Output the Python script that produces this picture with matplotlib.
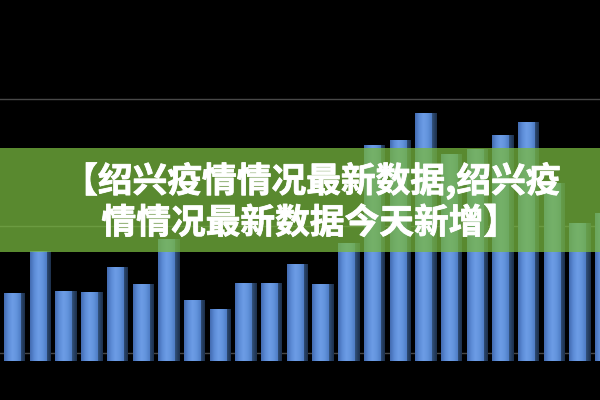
import numpy as np
import matplotlib
matplotlib.use("Agg")
import matplotlib.pyplot as plt
import matplotlib.patheffects as pe
from matplotlib.colors import LinearSegmentedColormap
from matplotlib.patches import Rectangle

# ---- data ----
values = [50, 47, 80, 49, 48, 68, 54, 90, 42, 35, 55, 55, 70, 54, 87,
          164, 168, 189, 157, 161, 172, 182, 134, 102, 110]
grid_values = [0, 100, 200]
title_line1 = "【绍兴疫情情况最新数据,绍兴疫"
title_line2 = "情情况最新数据今天新增】"

# ---- style ----
plt.rcParams['font.family'] = ['Noto Sans CJK SC', 'DejaVu Sans']
fig = plt.figure(figsize=(6, 4), dpi=100, facecolor='black')
ax = fig.add_axes([0, 0, 1, 1])
ax.set_facecolor('black')
ax.axis('off')

depth = 6
front_w = 0.66
side_w = 0.17
x = np.arange(len(values))

for g in grid_values:
    ax.axhline(g, color='#484848', lw=1.0, zorder=1)

front_cmap = LinearSegmentedColormap.from_list(
    'front', ['#426bb0', '#5c8bd6', '#6d9de6', '#6394dd', '#4e7cc4'])
side_cmap = LinearSegmentedColormap.from_list(
    'side', ['#34547f', '#263f62', '#1c2f4a'])
grad = np.linspace(0, 1, 64).reshape(1, -1)

heights = [v + depth for v in values]
sides = ax.bar(x + front_w / 2 + side_w / 2 - 0.02, heights, width=side_w,
               bottom=-depth, color='#2a4468', zorder=2, linewidth=0)
fronts = ax.bar(x, heights, width=front_w, bottom=-depth,
                color='#5b8ad4', zorder=3, linewidth=0)

for bars, cmap, z in ((sides, side_cmap, 2.5), (fronts, front_cmap, 3.5)):
    for r in bars:
        x0, y0, w, h = r.get_x(), r.get_y(), r.get_width(), r.get_height()
        im = ax.imshow(grad, extent=[x0, x0 + w, y0, y0 + h], aspect='auto',
                       cmap=cmap, zorder=z, interpolation='bicubic')
        im.set_clip_path(r)

ax.set_xlim(0.514, 23.86)
ax.set_ylim(-37, 278)

# ---- banner ----
fig.patches.append(Rectangle((0, 0.37), 1, 0.26, transform=fig.transFigure,
                             facecolor='#78b83f', alpha=0.75, edgecolor='none',
                             zorder=10))
stroke = [pe.withStroke(linewidth=0.6, foreground='white')]
fig.text(312 / 600, 1 - 181 / 400, title_line1, ha='center', va='center',
         fontsize=25, color='white', weight='heavy', zorder=11,
         path_effects=stroke)
fig.text(310 / 600, 1 - 223 / 400, title_line2, ha='center', va='center',
         fontsize=25, color='white', weight='heavy', zorder=11,
         path_effects=stroke)

fig.savefig('out.png', dpi=100, facecolor='black')
